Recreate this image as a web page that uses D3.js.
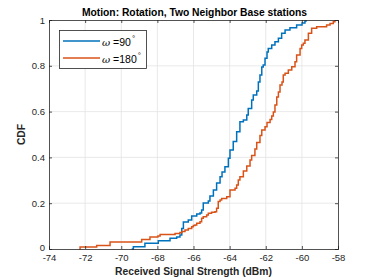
<!DOCTYPE html>
<html><head><meta charset="utf-8">
<script src="https://cdn.jsdelivr.net/npm/d3@7"></script>
<style>body{margin:0;background:#fff}svg{display:block}text{font-family:"Liberation Sans",Arial,sans-serif}</style>
</head><body><svg id="c" width="374" height="280"></svg>
<script>
const title = "Motion: Rotation, Two Neighbor Base stations";
const xLabel = "Received Signal Strength (dBm)";
const yLabel = "CDF";
const xTicks = [-74,-72,-70,-68,-66,-64,-62,-60,-58];
const yTicks = [0,0.2,0.4,0.6,0.8,1];
const seriesNames = ["90", "180"];
const blueX = [-69.42,-69.33,-68.69,-67.95,-67.30,-66.93,-66.75,-66.65,-66.56,-66.29,-66.10,-65.82,-65.64,-65.55,-65.46,-65.18,-65.09,-64.90,-64.72,-64.53,-64.42,-64.26,-64.07,-63.98,-63.80,-63.61,-63.43,-63.24,-63.05,-62.97,-62.78,-62.69,-62.50,-62.41,-62.32,-62.22,-62.14,-62.04,-61.93,-61.86,-61.67,-61.49,-61.30,-61.12,-60.93,-60.66,-60.29,-59.99,-59.83,-59.77];
const blueY = [0,0.010,0.025,0.036,0.047,0.052,0.061,0.090,0.118,0.127,0.144,0.153,0.157,0.170,0.201,0.210,0.231,0.258,0.288,0.316,0.336,0.359,0.396,0.432,0.469,0.512,0.556,0.563,0.585,0.614,0.651,0.672,0.690,0.729,0.760,0.795,0.803,0.833,0.860,0.876,0.891,0.905,0.920,0.942,0.956,0.966,0.978,0.987,0.996,1.0];
const orangeX = [-72.32,-72.28,-71.36,-70.62,-68.87,-68.41,-67.97,-67.85,-67.02,-66.75,-66.64,-66.47,-66.29,-66.10,-66.01,-65.92,-65.82,-65.64,-65.55,-65.46,-65.27,-65.18,-65.00,-64.81,-64.72,-64.63,-64.53,-64.44,-64.16,-63.98,-63.70,-63.61,-63.52,-63.43,-63.24,-63.05,-62.87,-62.78,-62.60,-62.50,-62.32,-62.22,-62.04,-61.93,-61.76,-61.67,-61.58,-61.49,-61.39,-61.30,-61.21,-61.10,-61.03,-60.93,-60.75,-60.56,-60.38,-60.29,-60.10,-60.01,-59.92,-59.83,-59.64,-59.46,-59.18,-58.63,-58.44,-58.26,-58.17];
const orangeY = [0,0.009,0.015,0.031,0.041,0.052,0.057,0.063,0.068,0.072,0.076,0.083,0.090,0.097,0.103,0.105,0.112,0.119,0.134,0.141,0.148,0.156,0.160,0.163,0.178,0.207,0.214,0.221,0.228,0.258,0.265,0.279,0.301,0.316,0.341,0.362,0.389,0.408,0.437,0.465,0.496,0.520,0.534,0.552,0.565,0.581,0.598,0.629,0.664,0.686,0.716,0.729,0.760,0.767,0.782,0.796,0.818,0.847,0.876,0.891,0.898,0.913,0.942,0.964,0.971,0.978,0.985,0.992,1.0];
const colors = ["#0072BD","#D95319"];

const svg = d3.select("#c");
const L=49,R=338,T=20,B=249;
const x = d3.scaleLinear().domain([-74,-58]).range([L,R]);
const y = d3.scaleLinear().domain([0,1]).range([B,T]);

// grid
svg.append("g").selectAll("line").data(xTicks.slice(1,-1)).join("line")
 .attr("x1",d=>x(d)).attr("x2",d=>x(d)).attr("y1",T).attr("y2",B)
 .attr("stroke","#e3e3e3").attr("stroke-width",0.8);
svg.append("g").selectAll("line").data(yTicks.slice(1,-1)).join("line")
 .attr("y1",d=>y(d)).attr("y2",d=>y(d)).attr("x1",L).attr("x2",R)
 .attr("stroke","#e3e3e3").attr("stroke-width",0.8);

// lines
const line = d3.line().x(d=>x(d[0])).y(d=>y(d[1])).curve(d3.curveStepAfter);
const series = [d3.zip(blueX,blueY), d3.zip(orangeX,orangeY)];
svg.append("g").selectAll("path").data(series).join("path")
 .attr("d",line).attr("fill","none").attr("stroke",(d,i)=>colors[i]).attr("stroke-width",1.5);

// axes
const ax = svg.append("g").attr("transform",`translate(0,${B})`)
 .call(d3.axisBottom(x).tickValues(xTicks).tickSize(-3).tickPadding(5.5).tickFormat(d=>d<0?"-"+Math.abs(d):d));
const ay = svg.append("g").attr("transform",`translate(${L},0)`)
 .call(d3.axisLeft(y).tickValues(yTicks).tickSize(-3).tickPadding(4).tickFormat(d=>d===0||d===1?d:d.toFixed(1)));
const axt = svg.append("g").attr("transform",`translate(0,${T})`)
 .call(d3.axisTop(x).tickValues(xTicks).tickSize(-3).tickFormat(""));
const ayr = svg.append("g").attr("transform",`translate(${R},0)`)
 .call(d3.axisRight(y).tickValues(yTicks).tickSize(-3).tickFormat(""));
[ax,ay,axt,ayr].forEach(g=>{
  g.selectAll("path").attr("stroke","#262626").attr("stroke-width",0.8);
  g.selectAll("line").attr("stroke","#262626").attr("stroke-width",0.8);
  g.selectAll("text").attr("fill","#262626").attr("font-size",9.5).attr("font-family","Liberation Sans, Arial, sans-serif");
});
ay.selectAll("text").filter(d=>d===0).attr("dy","0.2em");

// title & labels
svg.append("text").attr("x",(L+R)/2+1).attr("y",16).attr("text-anchor","middle")
 .attr("font-size",10.3).attr("font-weight","bold").attr("fill","#000").text(title);
svg.append("text").attr("x",(L+R)/2).attr("y",275).attr("text-anchor","middle")
 .attr("font-size",10.3).attr("font-weight","bold").attr("fill","#262626").text(xLabel);
svg.append("text").attr("transform",`translate(25,${(T+B)/2}) rotate(-90)`).attr("text-anchor","middle")
 .attr("font-size",10.3).attr("font-weight","bold").attr("fill","#262626").text(yLabel);

// legend
const lg = svg.append("g");
lg.append("rect").attr("x",59.5).attr("y",30.5).attr("width",87).attr("height",38)
 .attr("fill","#fff").attr("stroke","#262626").attr("stroke-width",0.8);
seriesNames.forEach((n,i)=>{
  const yy = 41 + i*17;
  lg.append("line").attr("x1",63).attr("x2",100).attr("y1",yy).attr("y2",yy)
   .attr("stroke",colors[i]).attr("stroke-width",1.6);
  const t = lg.append("text").attr("x",102).attr("y",yy+4.5).attr("font-size",10.5).attr("fill","#000");
  t.append("tspan").attr("font-style","italic").attr("font-family","DejaVu Serif, serif").attr("font-size",10).text("ω");
  t.append("tspan").text(" =" + n);
  t.append("tspan").attr("dx",1).attr("dy",-5).attr("font-size",8).text("°");
});
</script></body></html>
